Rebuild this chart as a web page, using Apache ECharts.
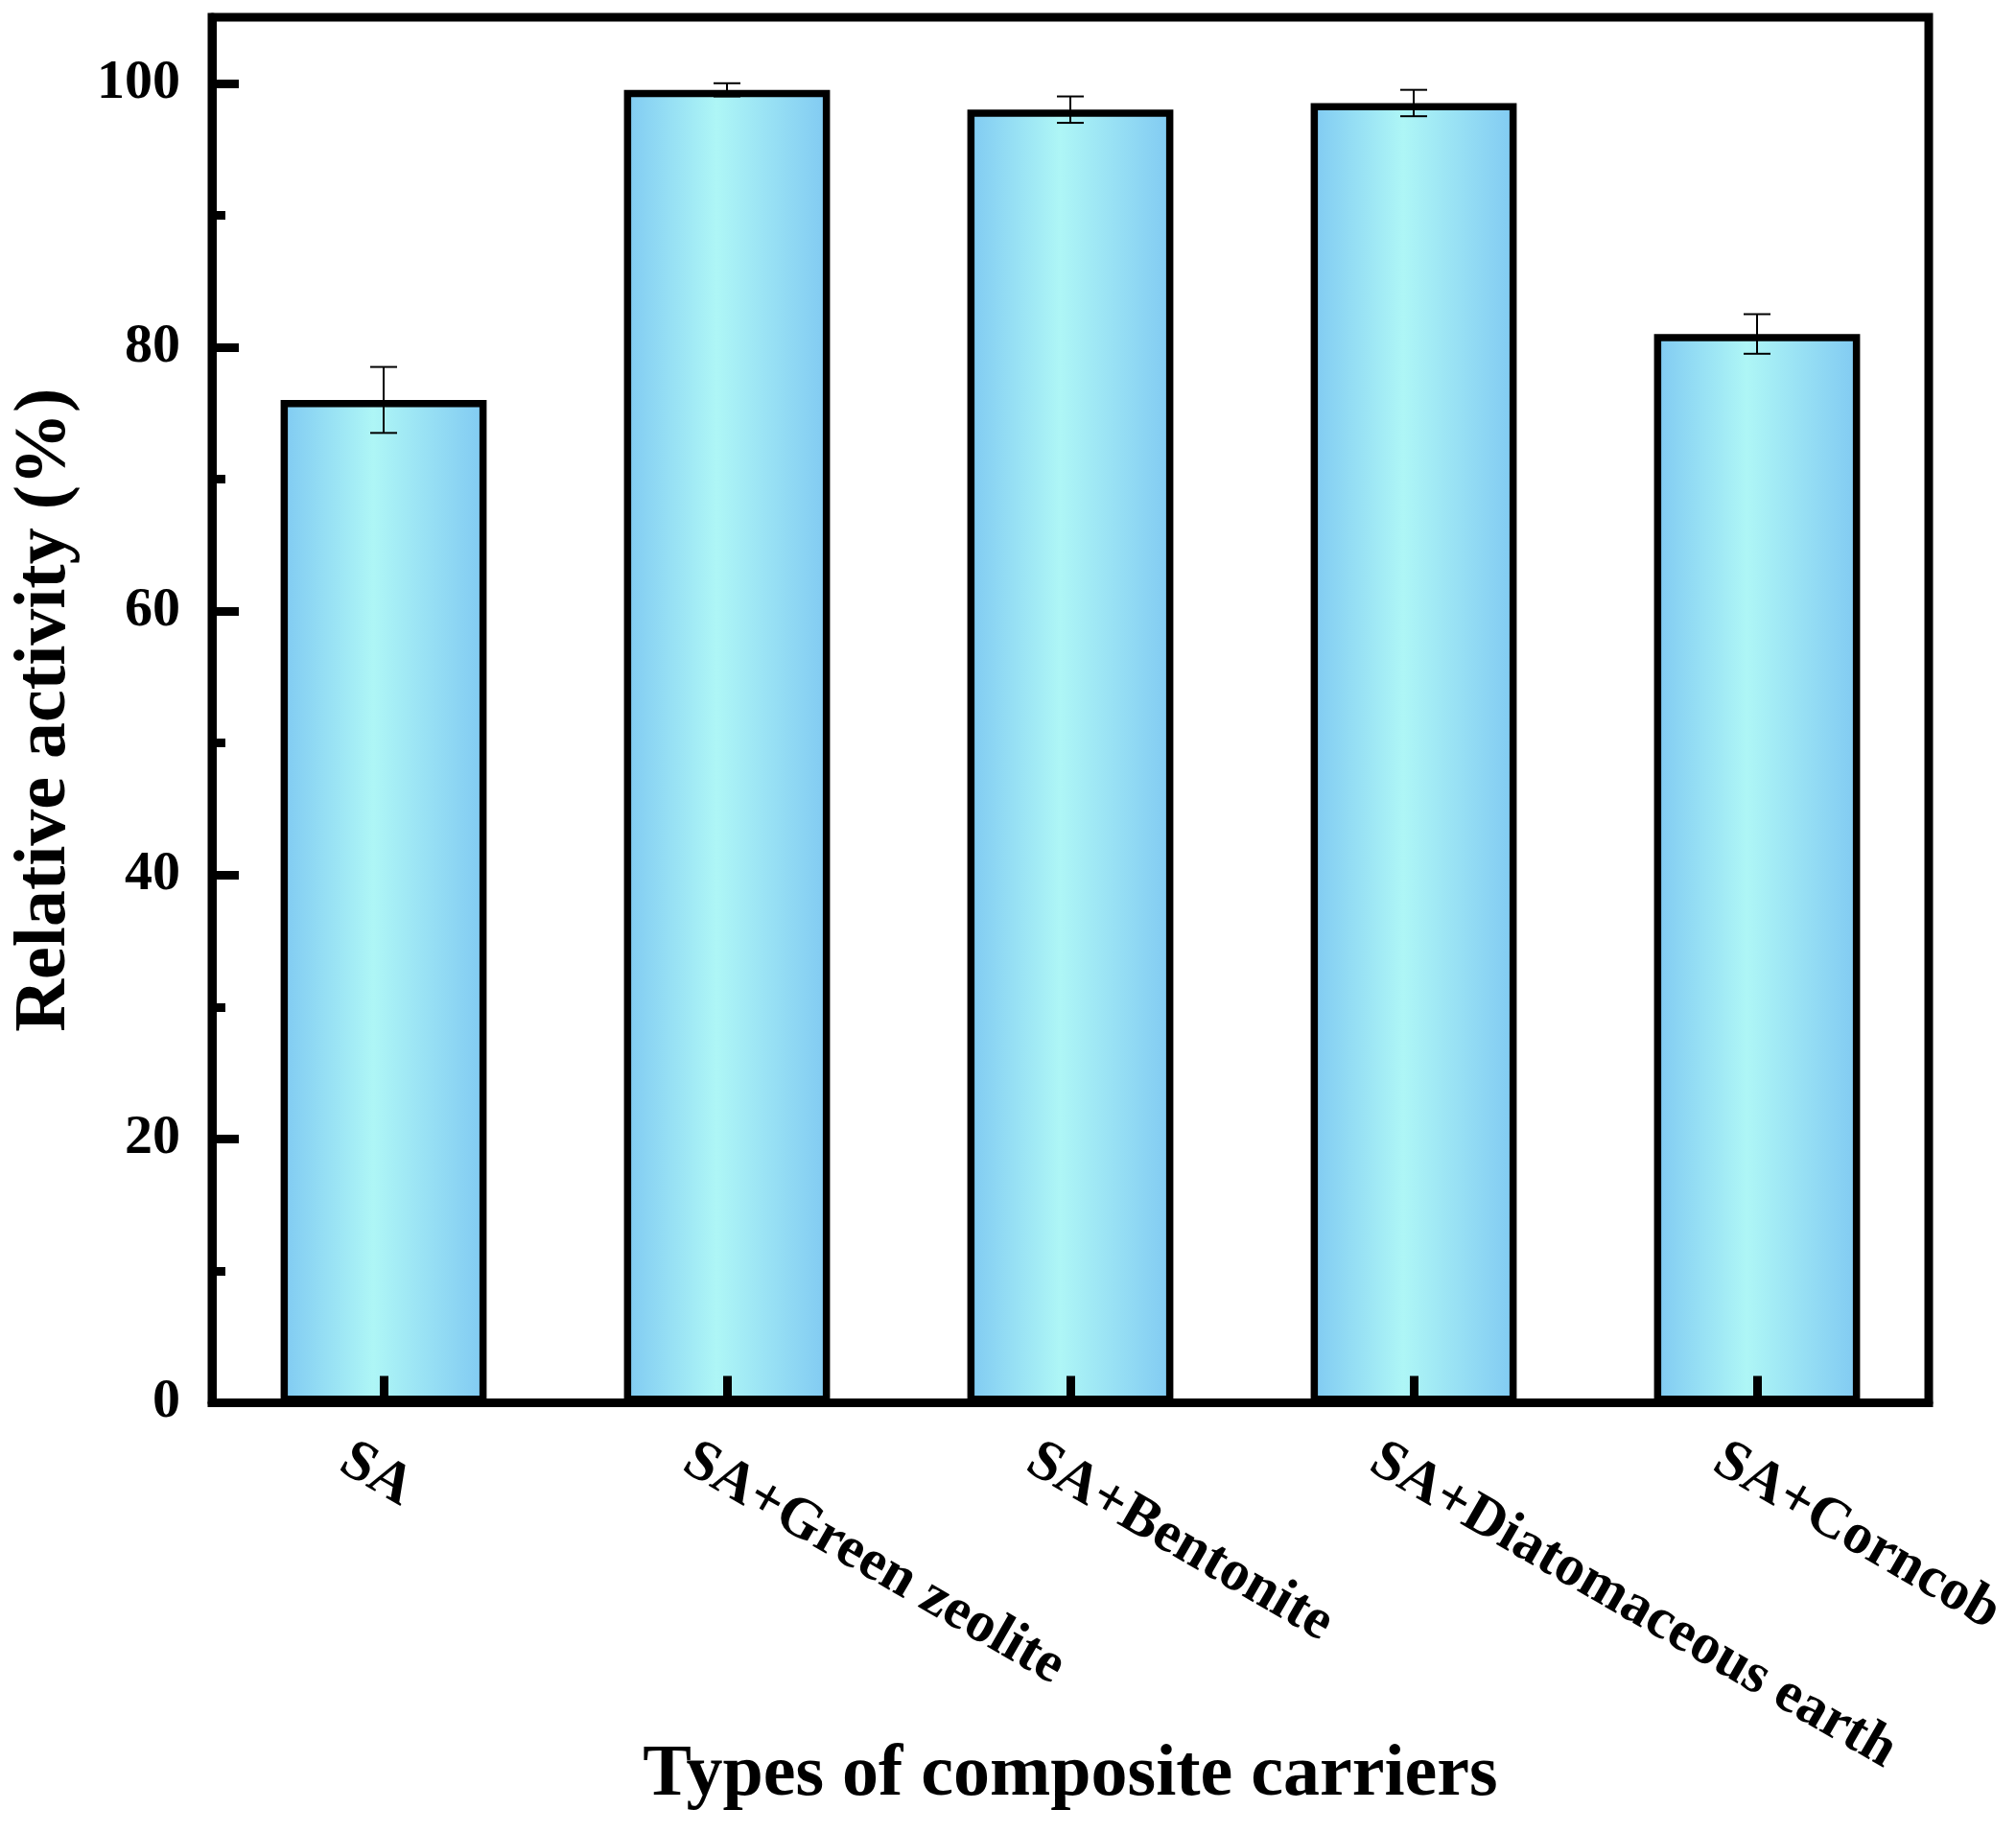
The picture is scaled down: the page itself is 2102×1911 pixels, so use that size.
<!DOCTYPE html>
<html>
<head>
<meta charset="utf-8">
<script src="https://cdn.jsdelivr.net/npm/echarts@6/dist/echarts.min.js"></script>
<style>
html,body{margin:0;padding:0;background:#fff;}
#chart{width:2102px;height:1911px;}
</style>
</head>
<body>
<div id="chart"></div>
<script>
const categories = ['SA', 'SA+Green zeolite', 'SA+Bentonite', 'SA+Diatomaceous earth', 'SA+Corncob'];
const relativeActivity = [76, 99.5, 98, 98.5, 81];
const errorValues = [2.5, 0.5, 1.0, 1.0, 1.5];
const yTickValues = [0, 20, 40, 60, 80, 100];
const yMinorTickValues = [10, 30, 50, 70, 90];
const yTitle = 'Relative activity (%)';
const xTitle = 'Types of composite carriers';

const FONT = "'Liberation Serif', 'Times New Roman', serif";
const chart = echarts.init(document.getElementById('chart'), null, {renderer: 'canvas'});

const GRID = {left: 221, right: 91, top: 18, bottom: 448.5};
const W = 2102;

const barGradient = new echarts.graphic.LinearGradient(0, 0, 1, 0, [
  {offset: 0, color: '#7fc9f2'},
  {offset: 0.45, color: '#aef6f6'},
  {offset: 1, color: '#80c9f2'}
]);

const errData = categories.map((c, i) => [i, relativeActivity[i] - errorValues[i], relativeActivity[i] + errorValues[i]]);

const option = {
  backgroundColor: '#ffffff',
  animation: false,
  grid: {
    left: GRID.left, right: GRID.right, top: GRID.top, bottom: GRID.bottom,
    show: true, borderColor: '#000', borderWidth: 9, backgroundColor: 'transparent',
    outerBoundsMode: 'none'
  },
  graphic: [{
    type: 'text',
    x: (GRID.left + (W - GRID.right)) / 2,
    y: 1851,
    style: {
      text: xTitle, align: 'center', verticalAlign: 'middle',
      fontFamily: FONT, fontWeight: 'bold', fontSize: 76, fill: '#000'
    }
  }],
  xAxis: {
    type: 'category',
    data: categories,
    z: 5,
    boundaryGap: true,
    axisLine: {show: true, lineStyle: {color: '#000', width: 9}},
    axisTick: {show: true, inside: true, alignWithLabel: true, length: 28, lineStyle: {color: '#000', width: 9}},
    axisLabel: {
      interval: 0, rotate: -30, margin: -15,
      align: 'left', verticalAlign: 'top', padding: [52, 0, 0, 0],
      fontFamily: FONT, fontWeight: 'bold', fontSize: 60, color: '#000'
    },
    splitLine: {show: false}
  },
  yAxis: [{
    type: 'value',
    min: 0, max: 105, interval: 20,
    z: 5,
    axisLine: {show: true, lineStyle: {color: '#000', width: 9}},
    axisTick: {show: true, inside: true, length: 28, customValues: yTickValues, lineStyle: {color: '#000', width: 9}},
    axisLabel: {margin: 33, customValues: yTickValues, fontFamily: FONT, fontWeight: 'bold', fontSize: 58, color: '#000'},
    splitLine: {show: false},
    name: yTitle, nameLocation: 'middle', nameGap: 136, nameMoveOverlap: false,
    nameTextStyle: {fontFamily: FONT, fontWeight: 'bold', fontSize: 76, color: '#000'}
  }, {
    type: 'value',
    min: 0, max: 105,
    position: 'left', offset: 0,
    z: 5,
    axisLine: {show: false},
    axisTick: {show: true, inside: true, length: 14, customValues: yMinorTickValues, lineStyle: {color: '#000', width: 9}},
    axisLabel: {show: false},
    splitLine: {show: false}
  }],
  series: [{
    type: 'bar',
    data: relativeActivity,
    barWidth: '60%',
    itemStyle: {color: barGradient, borderColor: '#000', borderWidth: 7.5},
    z: 2
  }, {
    type: 'custom',
    z: 10,
    data: errData,
    encode: {x: 0, y: [1, 2]},
    renderItem: function (params, api) {
      const idx = api.value(0);
      const lo = api.coord([idx, api.value(1)]);
      const hi = api.coord([idx, api.value(2)]);
      const hw = 14;
      const style = {stroke: '#000', lineWidth: 2};
      return {
        type: 'group',
        children: [
          {type: 'line', shape: {x1: hi[0], y1: hi[1], x2: lo[0], y2: lo[1]}, style: style},
          {type: 'line', shape: {x1: hi[0] - hw, y1: hi[1], x2: hi[0] + hw, y2: hi[1]}, style: style},
          {type: 'line', shape: {x1: lo[0] - hw, y1: lo[1], x2: lo[0] + hw, y2: lo[1]}, style: style}
        ]
      };
    }
  }]
};
chart.setOption(option);
</script>
</body>
</html>
